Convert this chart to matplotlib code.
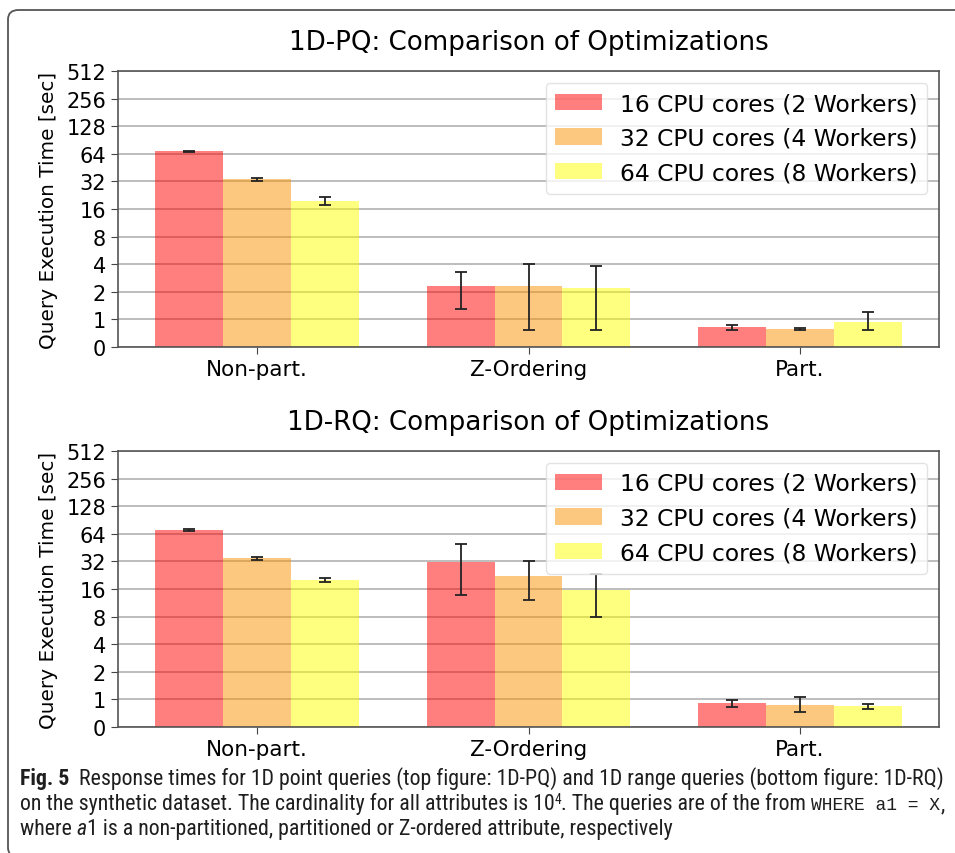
import matplotlib
matplotlib.use('Agg')
import matplotlib.pyplot as plt
import numpy as np
from matplotlib import font_manager
from matplotlib.font_manager import FontProperties
from matplotlib.patches import FancyBboxPatch
from matplotlib.ticker import NullLocator

# ---------------- data ----------------
categories = ['Non-part.', 'Z-Ordering', 'Part.']
series_labels = ['16 CPU cores (2 Workers)', '32 CPU cores (4 Workers)', '64 CPU cores (8 Workers)']

pq_16 = [68.0, 2.3, 0.71]
pq_16_err = [1.5, 1.0, 0.10]
pq_32 = [33.7, 2.3, 0.65]
pq_32_err = [1.2, 1.7, 0.03]
pq_64 = [19.6, 2.22, 0.90]
pq_64_err = [2.0, 1.6, 0.30]

rq_16 = [70.5, 31.7, 0.86]
rq_16_err = [1.0, 18.0, 0.13]
rq_32 = [34.6, 22.3, 0.80]
rq_32_err = [1.5, 10.3, 0.27]
rq_64 = [19.9, 15.7, 0.75]
rq_64_err = [1.0, 7.7, 0.08]

yticks = [0, 1, 2, 4, 8, 16, 32, 64, 128, 256, 512]
titles = ['1D-PQ: Comparison of Optimizations', '1D-RQ: Comparison of Optimizations']
ylabel = 'Query Execution Time [sec]'

caption_lbl = 'Fig. 5'
caption_l1 = 'Response times for 1D point queries (top figure: 1D-PQ) and 1D range queries (bottom figure: 1D-RQ)'
caption_l2a = 'on the synthetic dataset. The cardinality for all attributes is 10'
caption_l2sup = '4'
caption_l2b = '. The queries are of the from '
caption_l2code = 'WHERE a1 = X'
caption_l3a = 'where '
caption_l3it = 'a'
caption_l3b = '1 is a non-partitioned, partitioned or Z-ordered attribute, respectively'

colors = ['#FF0000', '#FB9300', '#FFFF00']

W, H = 955, 854
plt.rcParams['font.family'] = ['DejaVu Sans']
fig = plt.figure(figsize=(W / 100, H / 100), dpi=100)

def px_rect(l, t, r, b):
    return [l / W, 1 - b / H, (r - l) / W, (b - t) / H]

axes_specs = [
    (px_rect(118, 72, 939, 348), titles[0], [pq_16, pq_32, pq_64], [pq_16_err, pq_32_err, pq_64_err]),
    (px_rect(118, 452, 939, 728), titles[1], [rq_16, rq_32, rq_64], [rq_16_err, rq_32_err, rq_64_err]),
]

x = np.arange(len(categories))
width = 0.25
for rect, title, series, errs in axes_specs:
    ax = fig.add_axes(rect)
    ax.set_yscale('symlog', base=2, linthresh=1, linscale=0.5)
    ax.set_axisbelow(True)
    ax.yaxis.grid(True, color='#b8b8b8', linewidth=1.3)
    for i, (vals, err) in enumerate(zip(series, errs)):
        ax.bar(x + (i - 1) * width, vals, width, color=colors[i], alpha=0.5,
               label=series_labels[i], edgecolor='none',
               yerr=err, capsize=4.5,
               error_kw=dict(ecolor='#222222', elinewidth=1.3, capthick=1.3))
    ax.set_ylim(0, 512)
    ax.set_yticks(yticks)
    ax.set_yticklabels([str(v) for v in yticks])
    ax.yaxis.set_minor_locator(NullLocator())
    ax.set_xticks(x)
    ax.set_xticklabels(categories)
    ax.tick_params(axis='both', color='#444444', length=5)
    ax.tick_params(axis='y', labelsize=15)
    ax.tick_params(axis='x', labelsize=15.5)
    for s in ax.spines.values():
        s.set_color('#555555')
        s.set_linewidth(1.2)
    ax.set_title(title, fontsize=18.85, pad=16)
    ax.set_ylabel(ylabel, fontsize=14.4, labelpad=6)
    ax.legend(loc='upper right', fontsize=16.8, framealpha=0.8, edgecolor='#dddddd')

# ---------------- border ----------------
border = FancyBboxPatch((8 / W, 1 - 858 / H), 1.2, (858 - 11) / H,
                        boxstyle='round,pad=0,rounding_size=0.011',
                        transform=fig.transFigure, facecolor='none',
                        edgecolor='#555555', linewidth=1.3, clip_on=False)
fig.add_artist(border)

# ---------------- caption fonts ----------------
entries = font_manager.fontManager.ttflist

def find_font(name_pred, file_pred, weight_bold, italic):
    best = None
    for f in entries:
        if not (name_pred(f.name) or file_pred(f.fname)):
            continue
        is_bold = (isinstance(f.weight, int) and f.weight >= 600) or (isinstance(f.weight, str) and 'bold' in f.weight)
        is_it = f.style in ('italic', 'oblique')
        if is_bold == weight_bold and is_it == italic:
            best = f.fname
            break
    return best

cond_prefs = [
    (lambda n: n == 'Liberation Sans Narrow', lambda p: False),
    (lambda n: n == 'Roboto Condensed', lambda p: False),
    (lambda n: n == 'Open Sans Condensed', lambda p: False),
    (lambda n: False, lambda p: 'DejaVuSansCondensed' in p),
]
cap_files = None
for npred, fpred in cond_prefs:
    r = find_font(npred, fpred, False, False)
    b = find_font(npred, fpred, True, False)
    i = find_font(npred, fpred, False, True)
    if r:
        cap_files = (r, b or r, i or r)
        break

def fp(kind, size):
    if cap_files:
        idx = {'reg': 0, 'bold': 1, 'it': 2}[kind]
        p = FontProperties(fname=cap_files[idx], size=size)
    else:
        p = FontProperties(family='Liberation Sans', size=size,
                           weight='bold' if kind == 'bold' else 'normal',
                           style='italic' if kind == 'it' else 'normal')
    return p

mono_fp = lambda size: FontProperties(family='Liberation Mono', size=size)

fig.canvas.draw()
renderer = fig.canvas.get_renderer()

def text_w(s, prop):
    t1 = fig.text(0, 0, 'x' + s + 'x', fontproperties=prop)
    t2 = fig.text(0, 0, 'xx', fontproperties=prop)
    w = t1.get_window_extent(renderer).width - t2.get_window_extent(renderer).width
    t1.remove(); t2.remove()
    return w

def run_line(x_px, y_px, runs):
    xx = x_px
    for s, prop, dy in runs:
        fig.text(xx / W, 1 - (y_px - dy) / H, s, ha='left', va='baseline',
                 fontproperties=prop, color='#1e1e1e')
        xx += text_w(s, prop)
    return xx

base = 12.0
w_tot = text_w(caption_lbl + '  ', fp('bold', base)) + text_w(caption_l1, fp('reg', base))
cs = base * 924 / w_tot

# mono size chosen so line 2 ends at the right caption margin
w_reg2 = (text_w(caption_l2a, fp('reg', cs)) + text_w(caption_l2sup, fp('reg', cs * 0.62))
          + text_w(caption_l2b, fp('reg', cs)) + text_w(',', fp('reg', cs)))
w_m = text_w(caption_l2code, mono_fp(12.0))
ms = min(cs * 1.15, 12.0 * max(925 - w_reg2, 50) / w_m)

run_line(20, 785, [(caption_lbl + '  ', fp('bold', cs), 0), (caption_l1, fp('reg', cs), 0)])
run_line(20, 810, [(caption_l2a, fp('reg', cs), 0),
                   (caption_l2sup, fp('reg', cs * 0.62), 6),
                   (caption_l2b, fp('reg', cs), 0),
                   (caption_l2code, mono_fp(ms), 0),
                   (',', fp('reg', cs), 0)])
run_line(20, 835, [(caption_l3a, fp('reg', cs), 0), (caption_l3it, fp('it', cs), 0),
                   (caption_l3b, fp('reg', cs), 0)])

fig.savefig('out.png', dpi=100)
